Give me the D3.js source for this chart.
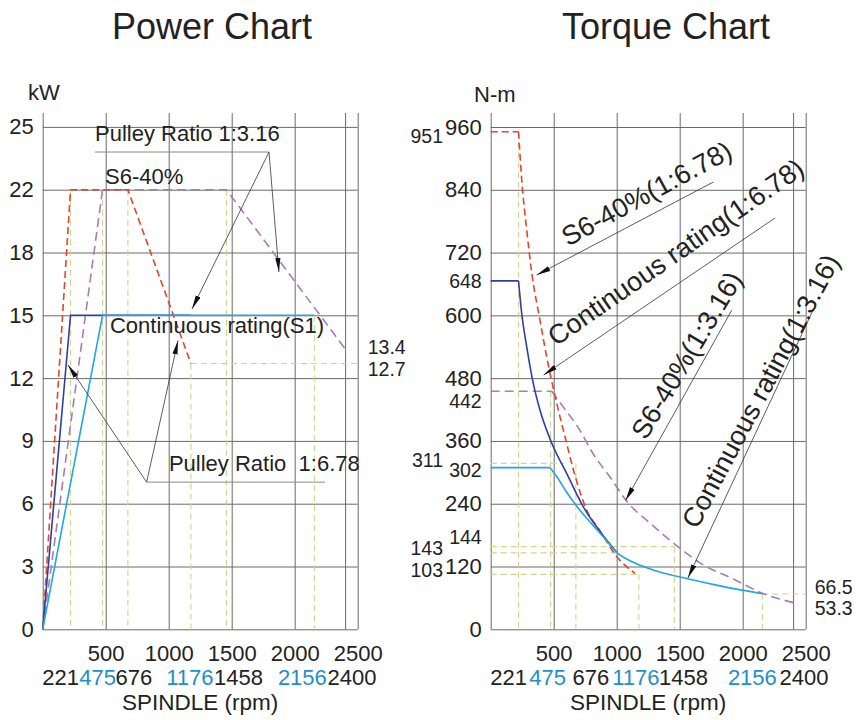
<!DOCTYPE html>
<html>
<head>
<meta charset="utf-8">
<script src="https://cdn.jsdelivr.net/npm/d3@7"></script>
<style>
  body { margin: 0; background: #fff; }
  text { font-family: "Liberation Sans", Arial, sans-serif; fill: #222; white-space: pre; }
</style>
</head>
<body>
<script>
// ---- data ----
var rpmTicks = [500, 1000, 1500, 2000, 2500];
var rpmGrid = [0, 500, 1000, 1500, 2000, 2400, 2500];
var rpmMarks = [221, 475, 676, 1176, 1458, 2156, 2400];
var rpmMarkBlue = [false, true, false, true, false, true, false];
var powerTicks = [0, 3, 6, 9, 12, 15, 18, 22, 25];
var torqueTicks = [0, 120, 240, 360, 480, 600, 720, 840, 960];

// power (rpm, kW)
var powerS6_678 = [[0, 0], [221, 22], [676, 22], [1176, 12.7]];
var powerS6_316 = [[0, 0], [475, 22], [1458, 22], [2400, 13.4]];
var powerS1_678 = [[0, 0], [221, 15], [1176, 15]];
var powerS1_316 = [[0, 0], [475, 15], [2156, 15]];

// torque (rpm, N-m)
var torqueS6_678 = [[0, 951], [221, 951], [246, 860], [286, 763], [326, 681], [391, 591], [444, 521],
  [524, 432], [590, 368], [656, 305], [762, 228], [868, 188], [1000, 139], [1145, 107]];
var torqueS1_678 = [[0, 666], [221, 666], [246, 604], [286, 540], [338, 470], [391, 419], [484, 356],
  [603, 298], [735, 234], [868, 187], [1000, 147]];
var torqueS1_316 = [[0, 309], [471, 309], [524, 292], [603, 262], [700, 230], [800, 202], [900, 175],
  [1000, 147], [1132, 128], [1320, 111], [1555, 97], [1800, 84], [2156, 68]];
var torqueS6_316 = [[0, 455], [484, 455], [576, 425], [709, 380], [814, 335], [950, 290], [1079, 245],
  [1264, 203], [1502, 155], [1661, 127], [1926, 96], [2156, 69], [2400, 51]];

// dashed guide lines
var powerGuides = [[[221, 22], [221, 0]], [[475, 22], [475, 0]], [[676, 22], [676, 0]],
  [[1176, 12.7], [1176, 0]], [[1458, 22], [1458, 0]], [[2156, 15], [2156, 0]], [[1176, 12.7], [2500, 12.7]]];
var torqueGuides = [[[221, 951], [221, 0]], [[475, 455], [475, 0]], [[676, 317], [676, 0]],
  [[1176, 105], [1176, 0]], [[1458, 158], [1458, 0]], [[2156, 68], [2156, 0]],
  [[0, 158], [1458, 158]], [[0, 146], [1000, 146]], [[0, 105], [1176, 105]], [[2156, 67.5], [2500, 67.5]]];
var torqueCyanGuide = [[0, 317], [580, 317]];

// value labels
var powerRight = ["13.4", "12.7"];
var powerRightAt = [13.4, 12.7];
var torqueOuter = ["951", "311", "143", "103"];
var torqueOuterAt = [951, 311, 143, 103];
var torqueInner = ["648", "442", "302", "144"];
var torqueInnerAt = [666, 455, 309, 158];
var torqueRight = ["66.5", "53.3"];
var torqueRightAt = [66.5, 53.3];

// annotations (rpm, value)
var powerNotes = [
  {text: "Pulley Ratio 1:3.16", at: [415, 24.33]},
  {text: "S6-40%", at: [495, 22.27]},
  {text: "Continuous rating(S1)", at: [534, 14.15]},
  {text: "Pulley Ratio  1:6.78", at: [1002, 7.57]}
];
var powerLeaders = [[[415, 23.8], [1796, 23.8]], [[825, 7.03], [2240, 7.03]]];
var powerArrows = [
  {from: [1796, 23.8], to: [1185, 15.3]},
  {from: [1796, 23.8], to: [1875, 17.07]},
  {from: [825, 7.03], to: [201, 12.63]},
  {from: [825, 7.03], to: [1074, 13.8]}
];
var torqueNotes = [
  {text: "S6-40%(1:6.78)", at: [613, 731], angle: -28.5},
  {text: "Continuous rating(1:6.78)", at: [518, 540], angle: -34.8},
  {text: "S6-40%(1:3.16)", at: [1233, 360], angle: -59},
  {text: "Continuous rating(1:3.16)", at: [1640, 190], angle: -62}
];
var torqueArrows = [
  {from: [1768, 855], to: [365, 677]},
  {from: [2256, 786], to: [420, 486]},
  {from: [1913, 610], to: [1070, 246]},
  {from: [2558, 610], to: [1565, 98]}
];

// ---- layout ----
var gridColor = '#6a6a6a';
var guideColor = '#cdd68c';
var blueText = '#1f8fc6';
var gridTop = 113;
var markNudgeP = [-10, -5, 6, -1, 12, -12, 7];
var markNudgeT = [-10, -3, 15, -3, 9, -10, 11];

var svg = d3.select('body').append('svg')
  .attr('width', 863)
  .attr('height', 720);

var defs = svg.append('defs');
defs.append('marker')
  .attr('id', 'arrow')
  .attr('markerUnits', 'userSpaceOnUse')
  .attr('viewBox', '0 -3 14 6')
  .attr('refX', 14).attr('refY', 0)
  .attr('markerWidth', 14).attr('markerHeight', 6)
  .attr('orient', 'auto')
  .append('path')
  .attr('d', 'M0,-2.6L14,0L0,2.6Z')
  .attr('fill', '#111');

var xP = d3.scaleLinear().domain([0, 2500]).range([42.7, 357.7]);
var yP = d3.scaleLinear().domain(powerTicks)
  .range(powerTicks.map(function(d, i) { return 629.3 - i * 62.8; }));
var xT = d3.scaleLinear().domain([0, 2500]).range([490.7, 805.7]);
var yT = d3.scaleLinear().domain([0, 960]).range([629.3, 127]);

function drawFrame(g, x, y, yTicks) {
  // horizontal grid
  g.append('g')
    .attr('transform', 'translate(' + x(0) + ',0)')
    .call(d3.axisLeft(y).tickValues(yTicks).tickSize(-(x(2500) - x(0))).tickFormat(''))
    .call(function(s) { s.select('.domain').remove(); })
    .selectAll('line').attr('stroke', gridColor);

  // vertical grid
  g.append('g')
    .attr('transform', 'translate(0,' + y(0) + ')')
    .call(d3.axisBottom(x).tickValues(rpmGrid).tickSize(-(y(0) - gridTop)).tickFormat(''))
    .call(function(s) { s.select('.domain').remove(); })
    .selectAll('line').attr('stroke', gridColor);

  // y tick labels
  g.append('g')
    .attr('transform', 'translate(' + x(0) + ',0)')
    .call(d3.axisLeft(y).tickValues(yTicks).tickSize(0).tickPadding(9).tickFormat(d3.format('d')))
    .call(function(s) { s.select('.domain').remove(); })
    .attr('font-family', null).attr('font-size', 22)
    .selectAll('text').style('fill', '#222');

  // x tick labels
  g.append('g')
    .attr('transform', 'translate(0,' + y(0) + ')')
    .call(d3.axisBottom(x).tickValues(rpmTicks).tickSize(0).tickPadding(16).tickFormat(d3.format('d')))
    .call(function(s) { s.select('.domain').remove(); })
    .attr('font-family', null).attr('font-size', 22)
    .selectAll('text').style('fill', '#222');
}

function drawMarks(g, x, nudge) {
  g.selectAll('.mark')
    .data(rpmMarks)
    .enter()
    .append('text')
    .attr('x', function(d, i) { return x(d) + nudge[i]; })
    .attr('y', 685)
    .attr('text-anchor', 'middle')
    .attr('font-size', 22)
    .style('fill', function(d, i) { return rpmMarkBlue[i] ? blueText : '#222'; })
    .text(function(d) { return d; });

  g.append('text')
    .attr('x', x(1250))
    .attr('y', 710)
    .attr('text-anchor', 'middle')
    .attr('font-size', 22.5)
    .text('SPINDLE (rpm)');
}

function drawGuides(g, x, y, guides) {
  var line = d3.line().x(function(d) { return x(d[0]); }).y(function(d) { return y(d[1]); });
  g.selectAll('.guide')
    .data(guides)
    .enter()
    .append('path')
    .attr('d', line)
    .attr('fill', 'none')
    .attr('stroke', guideColor)
    .attr('stroke-width', 1.1)
    .attr('stroke-dasharray', '6,4');
}

function drawArrows(g, x, y, arrows) {
  g.selectAll('.arrow')
    .data(arrows)
    .enter()
    .append('line')
    .attr('x1', function(d) { return x(d.from[0]); })
    .attr('y1', function(d) { return y(d.from[1]); })
    .attr('x2', function(d) { return x(d.to[0]); })
    .attr('y2', function(d) { return y(d.to[1]); })
    .attr('stroke', '#333')
    .attr('stroke-width', 0.8)
    .attr('marker-end', 'url(#arrow)');
}

// ---------------- power chart ----------------
var pg = svg.append('g');
drawFrame(pg, xP, yP, powerTicks);
drawGuides(pg, xP, yP, powerGuides);

var pLine = d3.line().x(function(d) { return xP(d[0]); }).y(function(d) { return yP(d[1]); });

pg.append('path').attr('d', pLine(powerS6_316))
  .attr('fill', 'none').attr('stroke', '#a97bb8').attr('stroke-width', 1.6).attr('stroke-dasharray', '9,5');
pg.append('path').attr('d', pLine(powerS6_678))
  .attr('fill', 'none').attr('stroke', '#e2452a').attr('stroke-width', 1.6).attr('stroke-dasharray', '7,4');
pg.append('path').attr('d', pLine(powerS1_678))
  .attr('fill', 'none').attr('stroke', '#2e3f9e').attr('stroke-width', 1.6);
pg.append('path').attr('d', pLine(powerS1_316))
  .attr('fill', 'none').attr('stroke', '#22a6de').attr('stroke-width', 1.6);

pg.selectAll('.leader')
  .data(powerLeaders)
  .enter()
  .append('path')
  .attr('d', pLine)
  .attr('stroke', '#8a8a8a')
  .attr('stroke-width', 1);
drawArrows(pg, xP, yP, powerArrows);

pg.selectAll('.note')
  .data(powerNotes)
  .enter()
  .append('text')
  .attr('x', function(d) { return xP(d.at[0]); })
  .attr('y', function(d) { return yP(d.at[1]); })
  .attr('font-size', 22)
  .text(function(d) { return d.text; });

var powerRightNudge = [-2, 6];
pg.selectAll('.rlabel')
  .data(powerRight)
  .enter()
  .append('text')
  .attr('x', xP(2500) + 10)
  .attr('y', function(d, i) { return yP(powerRightAt[i]) + powerRightNudge[i]; })
  .attr('dy', '0.35em')
  .attr('font-size', 19.5)
  .text(function(d) { return d; });

pg.append('text').attr('x', 28).attr('y', 100).attr('font-size', 22).text('kW');
pg.append('text').attr('x', 212).attr('y', 39).attr('text-anchor', 'middle')
  .attr('font-size', 36).text('Power Chart');
drawMarks(pg, xP, markNudgeP);

// ---------------- torque chart ----------------
var tg = svg.append('g');
drawFrame(tg, xT, yT, torqueTicks);
drawGuides(tg, xT, yT, torqueGuides);

var tLin = d3.line().x(function(d) { return xT(d[0]); }).y(function(d) { return yT(d[1]); });
var tCurve = d3.line().x(function(d) { return xT(d[0]); }).y(function(d) { return yT(d[1]); })
  .curve(d3.curveMonotoneX);
// flat part straight, falling part smooth, corner kept sharp
function torquePath(pts) { return tLin(pts.slice(0, 2)) + tCurve(pts.slice(1)); }

tg.append('path').attr('d', tLin(torqueCyanGuide))
  .attr('fill', 'none').attr('stroke', '#a6dcef').attr('stroke-width', 1.2).attr('stroke-dasharray', '6,4');

tg.append('path').attr('d', torquePath(torqueS6_316))
  .attr('fill', 'none').attr('stroke', '#a97bb8').attr('stroke-width', 1.6).attr('stroke-dasharray', '9,5');
tg.append('path').attr('d', torquePath(torqueS6_678))
  .attr('fill', 'none').attr('stroke', '#e2452a').attr('stroke-width', 1.6).attr('stroke-dasharray', '7,4');
tg.append('path').attr('d', torquePath(torqueS1_678))
  .attr('fill', 'none').attr('stroke', '#2e3f9e').attr('stroke-width', 1.6);
tg.append('path').attr('d', torquePath(torqueS1_316))
  .attr('fill', 'none').attr('stroke', '#22a6de').attr('stroke-width', 1.6);

drawArrows(tg, xT, yT, torqueArrows);

tg.selectAll('.note')
  .data(torqueNotes)
  .enter()
  .append('text')
  .attr('transform', function(d) {
    return 'translate(' + xT(d.at[0]) + ',' + yT(d.at[1]) + ') rotate(' + d.angle + ')';
  })
  .attr('font-size', 27)
  .text(function(d) { return d.text; });

var outerNudge = [4, -6, -6.5, -5.5];
tg.selectAll('.olabel')
  .data(torqueOuter)
  .enter()
  .append('text')
  .attr('x', 443)
  .attr('y', function(d, i) { return yT(torqueOuterAt[i]) + outerNudge[i]; })
  .attr('dy', '0.35em')
  .attr('text-anchor', 'end')
  .attr('font-size', 19.5)
  .text(function(d) { return d; });

var innerNudge = [0, 10, 3, -9];
tg.selectAll('.ilabel')
  .data(torqueInner)
  .enter()
  .append('text')
  .attr('x', xT(0) - 9)
  .attr('y', function(d, i) { return yT(torqueInnerAt[i]) + innerNudge[i]; })
  .attr('dy', '0.35em')
  .attr('text-anchor', 'end')
  .attr('font-size', 19.5)
  .text(function(d) { return d; });

var rightNudge = [-7, 7];
tg.selectAll('.rlabel')
  .data(torqueRight)
  .enter()
  .append('text')
  .attr('x', xT(2500) + 9)
  .attr('y', function(d, i) { return yT(torqueRightAt[i]) + rightNudge[i]; })
  .attr('dy', '0.35em')
  .attr('font-size', 19.5)
  .text(function(d) { return d; });

tg.append('text').attr('x', 474).attr('y', 102).attr('font-size', 22).text('N-m');
tg.append('text').attr('x', 666).attr('y', 39).attr('text-anchor', 'middle')
  .attr('font-size', 36).text('Torque Chart');
drawMarks(tg, xT, markNudgeT);
</script>
</body>
</html>
